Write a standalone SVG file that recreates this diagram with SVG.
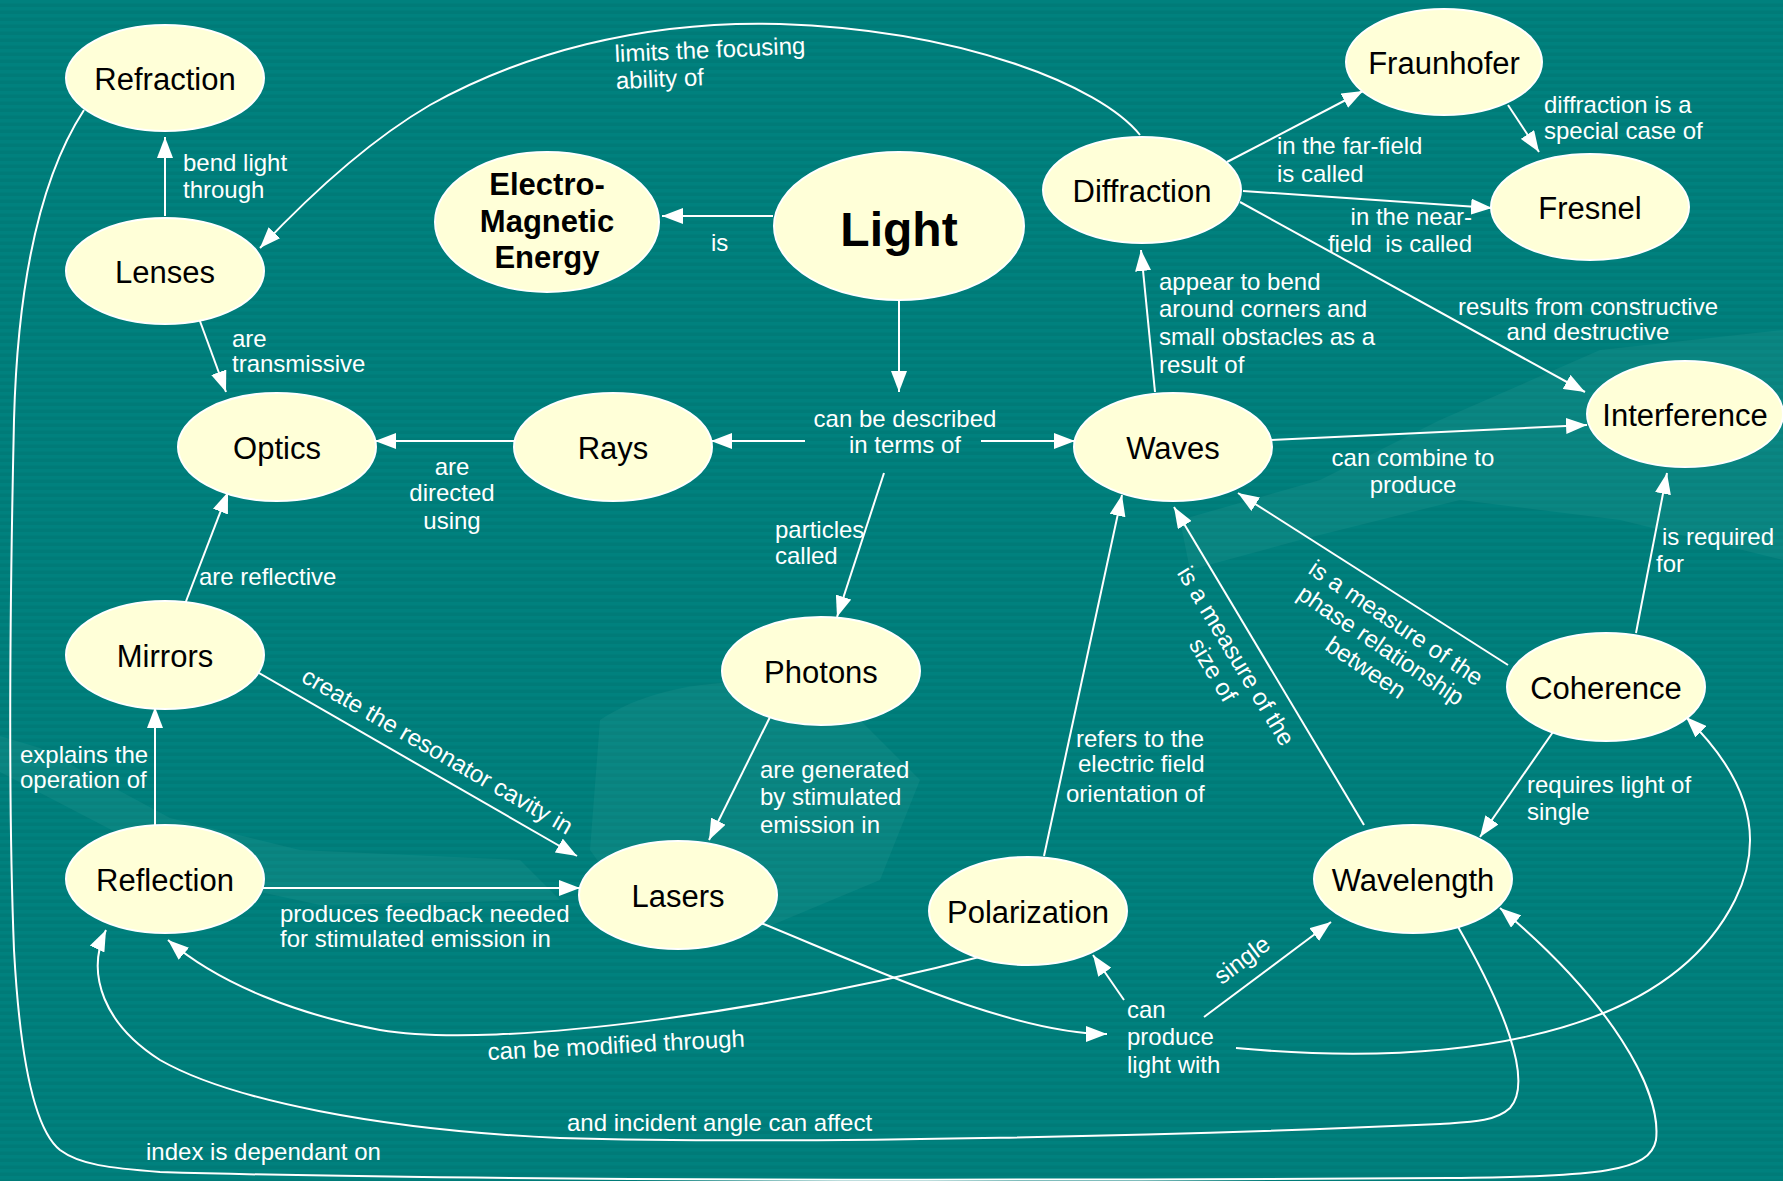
<svg xmlns="http://www.w3.org/2000/svg" width="1783" height="1181" viewBox="0 0 1783 1181">
<defs>
<pattern id="stripes" width="20" height="7" patternUnits="userSpaceOnUse">
<rect width="20" height="7" fill="#007B78"/>
<rect width="20" height="3.5" fill="#00817E"/>
</pattern>
<marker id="arr" markerUnits="userSpaceOnUse" markerWidth="22" markerHeight="16" refX="21" refY="8" orient="auto">
<path d="M0,0 L21,8 L0,16 Z" fill="#FFFFFF"/>
</marker>
<style>
.node ellipse{fill:#FFFFD8;stroke:#FFFFFF;stroke-width:2}
.node text{font-family:"Liberation Sans",Arial,sans-serif;font-size:31px;fill:#000000;text-anchor:middle}
.big text{font-weight:bold}
.edge{fill:none;stroke:#FFFFFF;stroke-width:2}
.arr{marker-end:url(#arr)}
.lbl{font-family:"Liberation Sans",Arial,sans-serif;font-size:24px;fill:#FFFFFF}
.mid{text-anchor:middle}
.end{text-anchor:end}
.sw{fill:#4FB3AE;opacity:0.12}
</style>
</defs>
<rect width="1783" height="1181" fill="url(#stripes)"/>
<g id="background">
<path class="sw" d="M0,736 L40,748 L170,818 L300,850 L520,860 L560,900 L320,905 L250,890 L150,850 L0,772 Z"/>
<path class="sw" d="M600,720 C660,680 760,670 840,700 L920,780 L880,880 L760,930 L640,920 L590,850 Z"/>
<path class="sw" d="M1180,520 L1320,480 L1440,420 L1600,350 L1783,330 L1783,560 L1620,520 L1460,500 L1300,540 L1190,570 Z"/>
</g>
<g id="connectors">
<path class="edge arr" d="M165,216 L165,137"/>
<path class="edge arr" d="M1140,135 C1100,85 960,30 780,24 C640,20 520,55 430,105 C370,140 310,195 260,248"/>
<path class="edge arr" d="M773,216 L662,216"/>
<path class="edge arr" d="M899,301 L899,392"/>
<path class="edge arr" d="M805,441 L711,441"/>
<path class="edge arr" d="M981,441 L1075,441"/>
<path class="edge arr" d="M884,473 L837,617"/>
<path class="edge arr" d="M515,441 L375,441"/>
<path class="edge arr" d="M197,313 L226,392"/>
<path class="edge arr" d="M180,617 L228,492"/>
<path class="edge arr" d="M155,825 L155,707"/>
<path class="edge arr" d="M245,665 L577,856"/>
<path class="edge arr" d="M263,888 L580,888"/>
<path class="edge arr" d="M770,717 L709,840"/>
<path class="edge arr" d="M1155,392 L1141,250"/>
<path class="edge arr" d="M1227,162 L1363,91"/>
<path class="edge arr" d="M1243,191 L1492,208"/>
<path class="edge arr" d="M1508,105 L1539,152"/>
<path class="edge arr" d="M1240,202 L1585,392"/>
<path class="edge arr" d="M1271,440 L1587,425"/>
<path class="edge arr" d="M1636,633 L1667,473"/>
<path class="edge arr" d="M1508,665 L1238,493"/>
<path class="edge arr" d="M1364,825 L1174,507"/>
<path class="edge arr" d="M1044,856 L1122,495"/>
<path class="edge arr" d="M1553,732 L1480,837"/>
<path class="edge arr" d="M761,923 C860,963 1010,1034 1107,1034"/>
<path class="edge arr" d="M1124,1000 L1093,955"/>
<path class="edge arr" d="M1204,1017 L1331,922"/>
<path class="edge arr" d="M1236,1048 C1420,1065 1660,1050 1735,900 C1770,830 1740,770 1686,717"/>
<path class="edge arr" d="M995,953 C780,1010 500,1050 380,1030 C300,1015 220,985 168,940"/>
<path class="edge arr" d="M1457,925 C1500,1000 1535,1080 1510,1108 C1495,1122 1470,1122 1440,1124 C1200,1135 800,1145 560,1138 C380,1130 230,1100 160,1060 C105,1025 85,975 106,930"/>
<path class="edge arr" d="M84,110 C45,170 18,270 14,420 C10,600 8,800 14,950 C20,1060 35,1130 60,1150 C80,1165 110,1168 160,1172 C500,1182 1100,1180 1450,1178 C1600,1176 1650,1172 1656,1140 C1662,1090 1610,1000 1500,908"/>
</g>
<g id="labels">
<text class="lbl"><tspan x="183" y="171">bend light</tspan><tspan x="183" y="198">through</tspan></text>
<text class="lbl" transform="rotate(-2.5 615 62)"><tspan x="615" y="62">limits the focusing</tspan><tspan x="615" y="89">ability of</tspan></text>
<text class="lbl" x="711" y="251">is</text>
<text class="lbl mid"><tspan x="905" y="427">can be described</tspan><tspan x="905" y="453">in terms of</tspan></text>
<text class="lbl"><tspan x="775" y="538">particles</tspan><tspan x="775" y="564">called</tspan></text>
<text class="lbl mid"><tspan x="452" y="475">are</tspan><tspan x="452" y="501">directed</tspan><tspan x="452" y="529">using</tspan></text>
<text class="lbl"><tspan x="232" y="347">are</tspan><tspan x="232" y="372">transmissive</tspan></text>
<text class="lbl" x="199" y="585">are reflective</text>
<text class="lbl"><tspan x="20" y="763">explains the</tspan><tspan x="20" y="788">operation of</tspan></text>
<text class="lbl" transform="rotate(30 300 681)" x="300" y="681">create the resonator cavity in</text>
<text class="lbl"><tspan x="280" y="922">produces feedback needed</tspan><tspan x="280" y="947">for stimulated emission in</tspan></text>
<text class="lbl"><tspan x="760" y="778">are generated</tspan><tspan x="760" y="805">by stimulated</tspan><tspan x="760" y="833">emission in</tspan></text>
<text class="lbl"><tspan x="1159" y="290">appear to bend</tspan><tspan x="1159" y="317">around corners and</tspan><tspan x="1159" y="345">small obstacles as a</tspan><tspan x="1159" y="373">result of</tspan></text>
<text class="lbl"><tspan x="1277" y="154">in the far-field</tspan><tspan x="1277" y="182">is called</tspan></text>
<text class="lbl end" xml:space="preserve"><tspan x="1472" y="225">in the near-</tspan><tspan x="1472" y="252">field  is called</tspan></text>
<text class="lbl"><tspan x="1544" y="113">diffraction is a</tspan><tspan x="1544" y="139">special case of</tspan></text>
<text class="lbl mid"><tspan x="1588" y="315">results from constructive</tspan><tspan x="1588" y="340">and destructive</tspan></text>
<text class="lbl mid"><tspan x="1413" y="466">can combine to</tspan><tspan x="1413" y="493">produce</tspan></text>
<text class="lbl"><tspan x="1662" y="545">is required</tspan><tspan x="1656" y="572">for</tspan></text>
<text class="lbl mid" transform="translate(1396 623) rotate(34)"><tspan x="0" y="8">is a measure of the</tspan><tspan x="0" y="35">phase relationship</tspan><tspan x="0" y="62">between</tspan></text>
<text class="lbl mid" transform="translate(1236 656) rotate(59)"><tspan x="0" y="8">is a measure of the</tspan><tspan x="0" y="35">size of</tspan></text>
<text class="lbl"><tspan x="1076" y="747">refers to the</tspan><tspan x="1078" y="772">electric field</tspan><tspan x="1066" y="802">orientation of</tspan></text>
<text class="lbl"><tspan x="1527" y="793">requires light of</tspan><tspan x="1527" y="820">single</tspan></text>
<text class="lbl"><tspan x="1127" y="1018">can</tspan><tspan x="1127" y="1045">produce</tspan><tspan x="1127" y="1073">light with</tspan></text>
<text class="lbl mid" transform="translate(1242 960) rotate(-37)" x="0" y="8">single</text>
<text class="lbl" transform="rotate(-3 488 1060)" x="488" y="1060">can be modified through</text>
<text class="lbl" x="567" y="1131">and incident angle can affect</text>
<text class="lbl" x="146" y="1160">index is dependant on</text>
</g>
<g id="node-refraction" class="node"><ellipse cx="165" cy="78" rx="99" ry="53"/><text x="165" y="90">Refraction</text></g>
<g id="node-lenses" class="node"><ellipse cx="165" cy="271" rx="99" ry="53"/><text x="165" y="283">Lenses</text></g>
<g id="node-em" class="node big"><ellipse cx="547" cy="222" rx="112" ry="70"/><text><tspan x="547" y="195">Electro-</tspan><tspan x="547" y="232">Magnetic</tspan><tspan x="547" y="268">Energy</tspan></text></g>
<g id="node-light" class="node big"><ellipse cx="899" cy="226" rx="125" ry="74"/><text x="899" y="246" style="font-size:48px">Light</text></g>
<g id="node-diffraction" class="node"><ellipse cx="1142" cy="190" rx="99" ry="53"/><text x="1142" y="202">Diffraction</text></g>
<g id="node-fraunhofer" class="node"><ellipse cx="1444" cy="62" rx="98" ry="53"/><text x="1444" y="74">Fraunhofer</text></g>
<g id="node-fresnel" class="node"><ellipse cx="1590" cy="207" rx="99" ry="53"/><text x="1590" y="219">Fresnel</text></g>
<g id="node-optics" class="node"><ellipse cx="277" cy="447" rx="99" ry="54"/><text x="277" y="459">Optics</text></g>
<g id="node-rays" class="node"><ellipse cx="613" cy="447" rx="99" ry="54"/><text x="613" y="459">Rays</text></g>
<g id="node-waves" class="node"><ellipse cx="1173" cy="447" rx="99" ry="54"/><text x="1173" y="459">Waves</text></g>
<g id="node-interference" class="node"><ellipse cx="1685" cy="414" rx="98" ry="53"/><text x="1685" y="426">Interference</text></g>
<g id="node-mirrors" class="node"><ellipse cx="165" cy="655" rx="99" ry="54"/><text x="165" y="667">Mirrors</text></g>
<g id="node-photons" class="node"><ellipse cx="821" cy="671" rx="99" ry="54"/><text x="821" y="683">Photons</text></g>
<g id="node-coherence" class="node"><ellipse cx="1606" cy="687" rx="99" ry="54"/><text x="1606" y="699">Coherence</text></g>
<g id="node-reflection" class="node"><ellipse cx="165" cy="879" rx="99" ry="54"/><text x="165" y="891">Reflection</text></g>
<g id="node-lasers" class="node"><ellipse cx="678" cy="895" rx="99" ry="54"/><text x="678" y="907">Lasers</text></g>
<g id="node-polarization" class="node"><ellipse cx="1028" cy="911" rx="99" ry="54"/><text x="1028" y="923">Polarization</text></g>
<g id="node-wavelength" class="node"><ellipse cx="1413" cy="879" rx="99" ry="54"/><text x="1413" y="891">Wavelength</text></g>
</svg>
